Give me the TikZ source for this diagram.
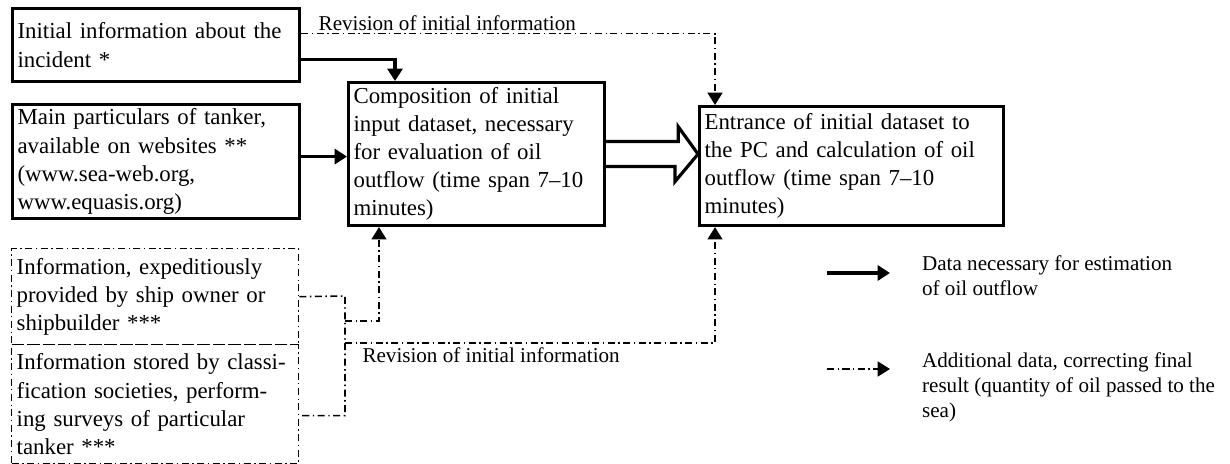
\documentclass[tikz,border=0pt]{standalone}
\usepackage{fontspec}
\setmainfont{Liberation Serif}
\usetikzlibrary{positioning}
\usetikzlibrary{arrows.meta}
\tikzset{
    infobox/.style = {rectangle, draw=black, line width=1.8pt, anchor=north west, align=left, inner xsep=0.1cm, inner ysep=1pt, font=\fontsize{13}{16}\selectfont},
    infoboxd/.style = {infobox, line width=0.8pt, dash pattern=on 4pt off 2pt on 0.8pt off 2pt},
    edgen/.style = {-{Triangle[length=7pt,width=8.5pt]}, line width=1.8pt},
    edged/.style = {-{Triangle[length=7pt,width=8.5pt]}, line width=0.9pt, dash pattern=on 4pt off 2pt on 0.8pt off 2pt},
    lined/.style = {line width=0.9pt, dash pattern=on 4pt off 2pt on 0.8pt off 2pt},
    bigarrow/.style = {line width=1.8pt, miter limit=10},
    note/.style = {align=left, inner sep=1pt, font=\fontsize{12}{14}\selectfont}
}

\begin{document}
\begin{tikzpicture}
\useasboundingbox (0,0) rectangle (24.6,-9.28);
\node[infobox, text width=5.54cm, minimum height=1.46cm] at (0.22,-0.14) (inc) {Initial information about the\\incident *};
\node[infobox, text width=5.54cm, minimum height=2.28cm] at (0.22,-2.06) (part) {Main particulars of tanker,\\available on websites **\\(www.sea-web.org,\\www.equasis.org)};
\node[infobox, text width=4.92cm, minimum height=2.86cm] at (6.94,-1.62) (comp) {Composition of initial\\input dataset, necessary\\for evaluation of oil\\outflow (time span 7--10\\minutes)};
\node[infobox, text width=5.88cm, minimum height=2.38cm] at (13.96,-2.10) (entr) {Entrance of initial dataset to\\the PC and calculation of oil\\outflow (time span 7--10\\minutes)};
\node[infoboxd, text width=5.54cm, minimum height=1.92cm] at (0.22,-4.96) (owner) {Information, expeditiously\\provided by ship owner or\\shipbuilder ***};
\node[infoboxd, text width=5.54cm, minimum height=2.38cm] at (0.22,-6.88) (class) {Information stored by classi-\\fication societies, perform-\\ing surveys of particular\\tanker ***};
%
\draw[edgen] ([yshift=-0.29cm]inc.east) -| ([xshift=0.96cm]comp.north west);
\draw[edgen] ([yshift=1mm]part.east) -- ([yshift=1mm]part.east -| comp.west);
\draw[bigarrow] ([yshift=2.5mm]comp.east) -- ++(1.44,0) -- ++(0,0.3) -- (entr.west |- comp.east) -- ++(-0.46,-0.55) -- ++(0,0.3) -- ([yshift=-2.5mm]comp.east);
%
\draw[edged] ([yshift=2.3mm]inc.east) -| node[note, pos=0, anchor=south west, xshift=3mm] {Revision of initial information} ([xshift=3.4mm]entr.north west);
\coordinate (bus) at (6.90,-5.92);
\draw[lined] (owner.east) -- (bus) -- ([yshift=-2.3mm]class.east -| bus) -- ([yshift=-2.3mm]class.east);
\draw[edged] (bus |- 0,-6.42) -| ([xshift=6.4mm]comp.south west);
\draw[edged] (bus |- 0,-6.86) -| node[note, pos=0, anchor=north west, xshift=3mm, yshift=-1pt] {Revision of initial information} ([xshift=3.4mm]entr.south west);
%
\coordinate (legn) at (16.54,-5.46);
\coordinate (legd) at (16.54,-7.38);
\draw[edgen] (legn) -- ++(1.26,0);
\draw[edged] (legd) -- ++(1.26,0);
\node[note, anchor=north west] at (18.40,-5.08) (legntext) {Data necessary for estimation\\of oil outflow};
\node[note, anchor=north west] at (18.40,-7.02) (legdtext) {Additional data, correcting final\\result (quantity of oil passed to the\\sea)};
\end{tikzpicture}
\end{document}
